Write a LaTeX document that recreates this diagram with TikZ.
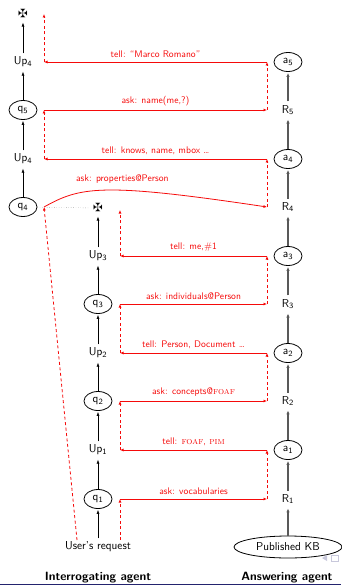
\documentclass[tikz,border=0pt]{standalone}
\usepackage{amssymb}
\usepackage{tikz}
\usetikzlibrary{arrows.meta, positioning, shapes.geometric}
\renewcommand{\familydefault}{\sfdefault}
\definecolor{rouge}{RGB}{245,10,10}
\definecolor{gris}{gray}{0.45}
\definecolor{bleu}{RGB}{35,35,110}
\newcommand{\sous}[2]{#1\textsubscript{#2}}

\tikzset{
  etat/.style={draw, ellipse, thick, inner sep=1pt, minimum width=28pt, minimum height=19pt},
  monte/.style={semithick, shorten >=1pt, -{Latex[length=4pt,width=3pt]}},
  repond/.style={line width=1.2pt, black!65, shorten >=1pt, -{Latex[length=4pt,width=3.4pt]}},
  envoi/.style={rouge, line width=0.8pt, -{Latex[length=3.5pt,width=3pt]}},
  attente/.style={rouge, line width=0.8pt, dash pattern=on 3pt off 2.5pt, -{Latex[length=3.5pt,width=3pt]}},
  msg/.style={rouge, font=\fontsize{9.6}{11}\selectfont, above=0.5pt, midway}
}

\begin{document}
\begin{tikzpicture}[x=1pt, y=-1pt, font=\fontsize{11.5}{13}\selectfont]
  \useasboundingbox (0,0) rectangle (341,585);

  % agent qui interroge : colonne de gauche
  \node (fin1) at (23,14) {$\maltese$};
  \node (up4b) at (23,62) {\sous{Up}{4}};
  \node[etat] (q5) at (23,110) {\sous{q}{5}};
  \node (up4a) at (23,159) {\sous{Up}{4}};
  \node[etat] (q4) at (23,207) {\sous{q}{4}};

  % agent qui interroge : colonne du milieu
  \node (fin2) at (98,208) {$\maltese$};
  \node (up3) at (98,256) {\sous{Up}{3}};
  \node[etat] (q3) at (98,304) {\sous{q}{3}};
  \node (up2) at (98,353) {\sous{Up}{2}};
  \node[etat] (q2) at (98,401) {\sous{q}{2}};
  \node (up1) at (98,450) {\sous{Up}{1}};
  \node[etat] (q1) at (98,499) {\sous{q}{1}};
  \node (req) at (98,547) {User's request};

  % agent qui répond
  \node[etat] (a5) at (288,62) {\sous{a}{5}};
  \node (r5) at (288,110) {\sous{R}{5}};
  \node[etat] (a4) at (288,159) {\sous{a}{4}};
  \node (r4) at (288,207) {\sous{R}{4}};
  \node[etat] (a3) at (288,256) {\sous{a}{3}};
  \node (r3) at (288,304) {\sous{R}{3}};
  \node[etat] (a2) at (288,353) {\sous{a}{2}};
  \node (r2) at (288,401) {\sous{R}{2}};
  \node[etat] (a1) at (288,450) {\sous{a}{1}};
  \node (r1) at (288,499) {\sous{R}{1}};
  \node[etat, minimum width=108pt, minimum height=22pt] (kb) at (288,547) {Published KB};

  % transitions
  \draw[monte] (q4) -- (up4a);
  \draw[monte] (up4a) -- (q5);
  \draw[monte] (q5) -- (up4b);
  \draw[monte] (up4b) -- (fin1);
  \draw[monte] (req) -- (q1);
  \draw[monte] (q1) -- (up1);
  \draw[monte] (up1) -- (q2);
  \draw[monte] (q2) -- (up2);
  \draw[monte] (up2) -- (q3);
  \draw[monte] (q3) -- (up3);
  \draw[monte] (up3) -- (fin2);
  \draw[gris, thin, dotted] (q4) -- (fin2);

  \draw[repond] (kb) -- (r1);
  \draw[repond] (r1) -- (a1);
  \draw[repond] (a1) -- (r2);
  \draw[repond] (r2) -- (a2);
  \draw[repond] (a2) -- (r3);
  \draw[repond] (r3) -- (a3);
  \draw[repond] (a3) -- (r4);
  \draw[repond] (r4) -- (a4);
  \draw[repond] (a4) -- (r5);
  \draw[repond] (r5) -- (a5);

  % points des messages
  \coordinate (m0) at (120,540);
  \coordinate (m1) at (120,499); \coordinate (n1) at (267,499);
  \coordinate (m2) at (120,450); \coordinate (n2) at (267,450);
  \coordinate (m3) at (120,401); \coordinate (n3) at (267,401);
  \coordinate (m4) at (120,353); \coordinate (n4) at (267,353);
  \coordinate (m5) at (120,304); \coordinate (n5) at (267,304);
  \coordinate (m6) at (120,256); \coordinate (n6) at (267,256);
  \coordinate (m7) at (120,210);
  \coordinate (l0) at (77,540);
  \coordinate (l1) at (44,207); \coordinate (n7) at (267,207);
  \coordinate (l2) at (44,159); \coordinate (n8) at (267,159);
  \coordinate (l3) at (44,110); \coordinate (n9) at (267,110);
  \coordinate (l4) at (44,62);  \coordinate (n10) at (267,62);
  \coordinate (l5) at (44,14);

  % premier dialogue
  \draw[attente] (m0) -- (m1);
  \draw[envoi] (m1) -- node[msg] {ask: vocabularies} (n1);
  \draw[attente] (n1) -- (n2);
  \draw[envoi] (n2) -- node[msg] {tell: \textrm{\textsc{foaf}}, \textrm{\textsc{pim}}} (m2);
  \draw[attente] (m2) -- (m3);
  \draw[envoi] (m3) -- node[msg] {ask: concepts@\textrm{\textsc{foaf}}} (n3);
  \draw[attente] (n3) -- (n4);
  \draw[envoi] (n4) -- node[msg] {tell: Person, Document \dots} (m4);
  \draw[attente] (m4) -- (m5);
  \draw[envoi] (m5) -- node[msg] {ask: individuals@Person} (n5);
  \draw[attente] (n5) -- (n6);
  \draw[envoi] (n6) -- node[msg] {tell: me,\#1} (m6);
  \draw[attente] (m6) -- (m7);

  % second dialogue
  \draw[attente] (l0) -- (l1);
  \draw[envoi] (l1) .. controls (80,187) and (100,182) .. node[msg, pos=0.58, above=3pt] {ask: properties@Person} (n7);
  \draw[attente] (n7) -- (n8);
  \draw[envoi] (n8) -- node[msg] {tell: knows, name, mbox \dots} (l2);
  \draw[attente] (l2) -- (l3);
  \draw[envoi] (l3) -- node[msg] {ask: name(me,?)} (n9);
  \draw[attente] (n9) -- (n10);
  \draw[envoi] (n10) -- node[msg] {tell: ``Marco Romano''} (l4);
  \draw[attente] (l4) -- (l5);

  % titres et bas de page
  \node[font=\fontsize{12}{14}\selectfont\bfseries] (titre1) at (98,578) {Interrogating agent};
  \node[font=\fontsize{12}{14}\selectfont\bfseries] (titre2) at (287,578) {Answering agent};
  \fill[bleu] (0,583.5) rectangle (341,585);
  \fill[bleu!25] (322,558) -- (327,555) -- (327,561) -- cycle;
  \draw[bleu!25, thin] (331,555) rectangle (338,561);
\end{tikzpicture}
\end{document}
